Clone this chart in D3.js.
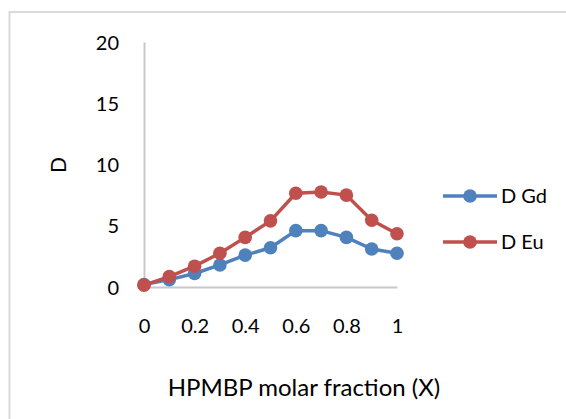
<!DOCTYPE html>
<html>
<head>
<meta charset="utf-8">
<script src="https://cdn.jsdelivr.net/npm/d3@7"></script>
<style>
  body { margin: 0; background: #fff; }
  svg { display: block; font-family: Lato, "Open Sans", sans-serif; }
</style>
</head>
<body>
<div class="js-chart"></div>
<script>
// Values
const xValues = [0, 0.1, 0.2, 0.3, 0.4, 0.5, 0.6, 0.7, 0.8, 0.9, 1];
const gdValues = [0.2, 0.6, 1.1, 1.8, 2.6, 3.2, 4.6, 4.6, 4.05, 3.1, 2.75];
const euValues = [0.15, 0.85, 1.7, 2.75, 4.05, 5.4, 7.65, 7.75, 7.5, 5.45, 4.35];
const xTicks = [0, 0.2, 0.4, 0.6, 0.8, 1];
const yTicks = [0, 5, 10, 15, 20];
const seriesNames = ["D Gd", "D Eu"];
const seriesColors = ["#4F81BD", "#C0504D"];

const width = 566, height = 419;

const svg = d3.select(".js-chart")
  .append("svg")
  .attr("width", width)
  .attr("height", height);

// chart area border (runs off the right and bottom edges)
svg.append("rect")
  .attr("x", 9.5).attr("y", 12)
  .attr("width", 580).attr("height", 420)
  .attr("fill", "none")
  .attr("stroke", "#d9d9d9")
  .attr("stroke-width", 2);

const x = d3.scaleLinear().domain([0, 1]).range([144, 397]);
const y = d3.scaleLinear().domain([0, 20]).range([287, 42]);

// axes
const yAxis = svg.append("g")
  .attr("transform", "translate(144,0)")
  .call(d3.axisLeft(y).tickValues(yTicks).tickSize(0).tickPadding(25));
const xAxis = svg.append("g")
  .attr("transform", "translate(0,287)")
  .call(d3.axisBottom(x).tickValues(xTicks).tickSize(0).tickPadding(32)
    .tickFormat(d3.format("")));

[xAxis, yAxis].forEach(function (g) {
  g.select(".domain").attr("stroke", "#c8c8c8").attr("stroke-width", 2);
  g.selectAll("text")
    .attr("fill", "#000")
    .style("font-size", "20px")
    .style("font-family", "Lato, 'Open Sans', sans-serif");
});
yAxis.selectAll("text").attr("text-anchor", "end").attr("dy", "0.35em");

// axis titles
svg.append("text")
  .attr("x", 304).attr("y", 396)
  .attr("text-anchor", "middle")
  .style("font-size", "24px")
  .text("HPMBP molar fraction (X)");

svg.append("text")
  .attr("transform", "translate(66,165) rotate(-90)")
  .attr("text-anchor", "middle")
  .style("font-size", "21px")
  .text("D");

// series
const series = [gdValues, euValues];
const line = d3.line()
  .x(function (d, i) { return x(xValues[i]); })
  .y(function (d) { return y(d); });

series.forEach(function (vals, s) {
  const g = svg.append("g");
  g.append("path")
    .datum(vals)
    .attr("d", line)
    .attr("fill", "none")
    .attr("stroke", seriesColors[s])
    .attr("stroke-width", 3.5)
    .attr("stroke-linejoin", "round");
  g.selectAll("circle")
    .data(vals)
    .enter()
    .append("circle")
    .attr("cx", function (d, i) { return x(xValues[i]); })
    .attr("cy", function (d) { return y(d); })
    .attr("r", 6.8)
    .attr("fill", seriesColors[s]);
});

// legend
const legend = svg.append("g");
seriesNames.forEach(function (name, i) {
  const ly = 196 + i * 46;
  legend.append("line")
    .attr("x1", 443).attr("x2", 497)
    .attr("y1", ly).attr("y2", ly)
    .attr("stroke", seriesColors[i])
    .attr("stroke-width", 3.5);
  legend.append("circle")
    .attr("cx", 470).attr("cy", ly).attr("r", 6.8)
    .attr("fill", seriesColors[i]);
  legend.append("text")
    .attr("x", 501).attr("y", ly)
    .attr("dy", "0.36em")
    .style("font-size", "20px")
    .text(name);
});
</script>
</body>
</html>
